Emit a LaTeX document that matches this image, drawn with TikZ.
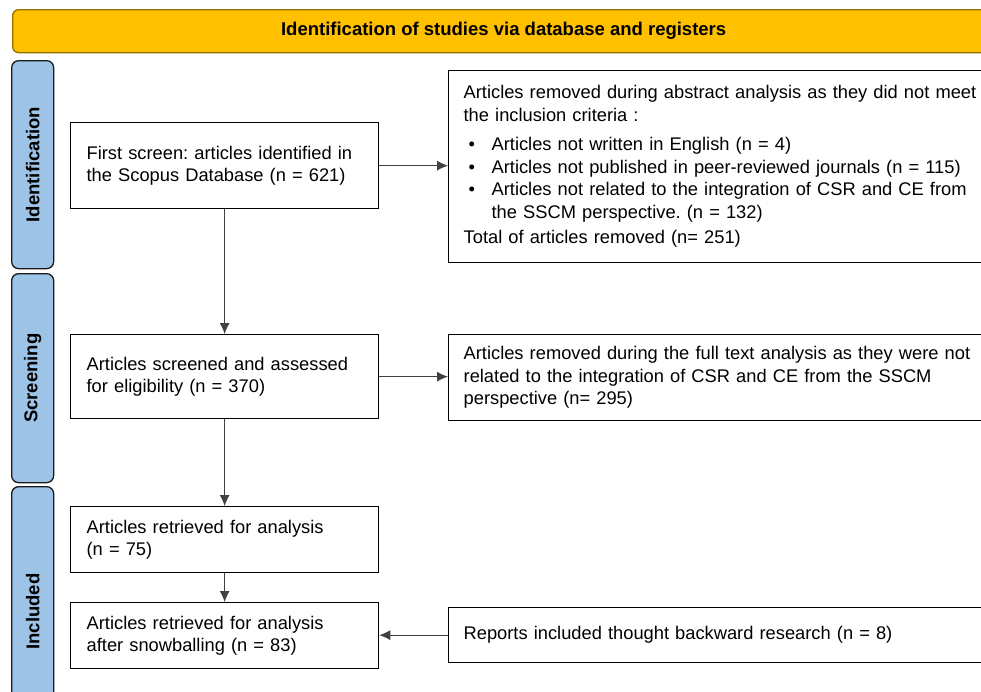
\documentclass[tikz,border=0pt]{standalone}
\usepackage{fontspec}
\setmainfont{Liberation Sans}
\usetikzlibrary{calc, positioning, arrows.meta}

\definecolor{bannergold}{HTML}{FFC000}
\definecolor{bannerline}{HTML}{8F7000}
\definecolor{tabblue}{HTML}{9DC3E6}
\definecolor{tabline}{HTML}{1A1A1A}
\definecolor{arrowgray}{HTML}{404040}

\newcommand{\bul}{\makebox[28pt][l]{\hspace{5pt}\textbullet}}
\frenchspacing

\tikzset{
  txt/.style={font=\fontsize{18.3pt}{22.5pt}\selectfont},
  stagebox/.style={txt, draw=black, line width=1.3pt, fill=white, align=left, anchor=north west, inner xsep=16pt, inner ysep=0pt, text width=276pt},
  sidebox/.style={stagebox, inner xsep=15pt, text width=530pt},
  tabbox/.style={font=\fontsize{18.5pt}{20pt}\selectfont\bfseries, draw=tabline, fill=tabblue, line width=1.3pt, rounded corners=7pt, anchor=north west, minimum width=42pt, inner sep=0pt},
  flow/.style={-{Latex[length=11pt,width=10pt]}, draw=arrowgray, line width=0.9pt},
}

\begin{document}
\begin{tikzpicture}[x=1pt, y=-1pt]
  \useasboundingbox (0,0) rectangle (981,691);
  \clip (0,0) rectangle (981,691);
  % Banner
  \node[font=\fontsize{18.5pt}{20pt}\selectfont\bfseries, draw=bannerline, fill=bannergold, line width=1.3pt, rounded corners=6pt, anchor=north west, minimum width=982pt, minimum height=43pt, inner sep=0pt] (banner) at (12,9) {Identification of studies via database and registers};
  % Stage tabs
  \node[tabbox, minimum height=208pt] (tabid) at (11,60) {\rotatebox{90}{Identification}};
  \node[tabbox, minimum height=209pt] (tabscr) at (11,273) {\rotatebox{90}{Screening}};
  \node[tabbox, minimum height=250pt] (tabinc) at (11,486) {\rotatebox{90}{Included}};
  % Left column
  \node[stagebox, minimum height=86pt] (first) at (70,122) {First screen: articles identified in\\the Scopus Database (n = 621)};
  \node[stagebox, minimum height=84pt] (screened) at (70,334) {Articles screened and assessed\\for eligibility (n = 370)};
  \node[stagebox, minimum height=66pt] (retrieved) at (70,506) {Articles retrieved for analysis\\(n = 75)};
  \node[stagebox, minimum height=66pt] (snowball) at (70,602) {Articles retrieved for analysis\\after snowballing (n = 83)};
  % Right column
  \node[sidebox, minimum height=192pt] (removed) at (448,70) {Articles removed during abstract analysis as they did not meet\\
    the inclusion criteria :\\[7pt]
    \bul Articles not written in English (n = 4)\\
    \bul Articles not published in peer-reviewed journals (n = 115)\\
    \bul Articles not related to the integration of CSR and CE from\\
    \hspace*{28pt}the SSCM perspective. (n = 132)\\[3pt]
    Total of articles removed (n= 251)};
  \node[sidebox, minimum height=86pt] (fulltext) at (448,334) {Articles removed during the full text analysis as they were not\\related to the integration of CSR and CE from the SSCM\\perspective (n= 295)};
  \node[sidebox, minimum height=55pt] (backward) at (448,607) {Reports included thought backward research (n = 8)};
  % Arrows
  \draw[flow] (first) -- (screened);
  \draw[flow] (screened) -- (retrieved);
  \draw[flow] (retrieved) -- (snowball);
  \draw[flow] (first.east) -- (first.east -| removed.west);
  \draw[flow] (screened.east) -- (screened.east -| fulltext.west);
  \draw[flow] (backward.west) -- (backward.west -| snowball.east);
\end{tikzpicture}
\end{document}
